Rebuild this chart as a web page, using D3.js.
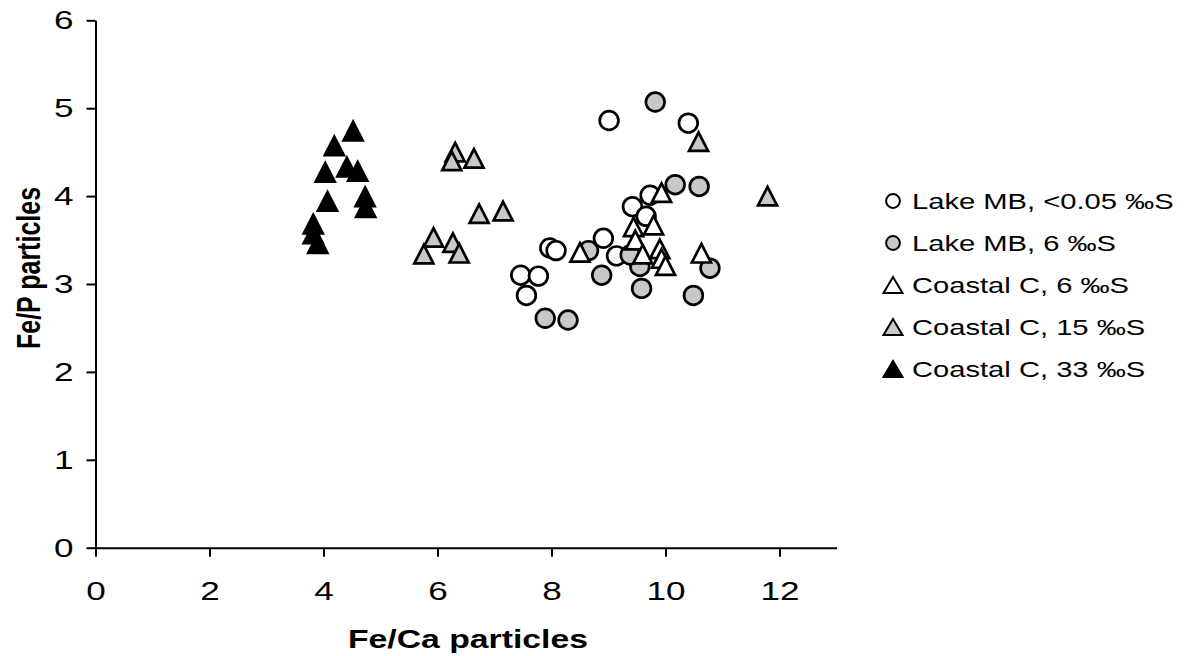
<!DOCTYPE html>
<html>
<head>
<meta charset="utf-8">
<script src="https://cdn.jsdelivr.net/npm/d3@7"></script>
<style>
  body { margin: 0; background: #fff; }
  text { font-family: Arial, "Liberation Sans", sans-serif; }
</style>
</head>
<body>
<div id="chart"></div>
<script>
var WIDTH = 1187, HEIGHT = 656;
var STRETCH = 1.35;   //text in the original figure is drawn wide

//series names, in draw order (later ones sit on top)
var seriesNames = ['Lake MB, <0.05 \u2030S', 'Lake MB, 6 \u2030S', 'Coastal C, 6 \u2030S', 'Coastal C, 15 \u2030S', 'Coastal C, 33 \u2030S'];
var seriesShapes = ['circle', 'circle', 'triangle', 'triangle', 'triangle'];
var seriesFills = ['#ffffff', '#c8c8c8', '#ffffff', '#c8c8c8', '#000000'];

//[Fe/Ca, Fe/P] pairs
var lakeFresh = [[9.01, 4.86], [10.4, 4.83], [9.73, 4.01], [9.42, 3.88], [9.66, 3.77], [8.91, 3.52],
    [9.14, 3.32], [7.97, 3.41], [8.08, 3.38], [7.46, 3.10], [7.77, 3.09], [7.56, 2.87]];
var lake6 = [[9.82, 5.07], [10.17, 4.13], [10.59, 4.11], [10.78, 3.18], [10.49, 2.87], [9.58, 2.95],
    [9.55, 3.20], [9.38, 3.33], [8.88, 3.10], [7.89, 2.61], [8.29, 2.59], [8.65, 3.38]];
var coastal6 = [[8.50, 3.36], [9.44, 3.65], [9.79, 3.67], [9.93, 4.04], [9.47, 3.50], [9.60, 3.34],
    [9.90, 3.40], [9.93, 3.29], [10.0, 3.21], [10.63, 3.35]];
var coastal15 = [[6.31, 4.50], [6.25, 4.40], [6.64, 4.43], [6.73, 3.80], [7.15, 3.83], [5.93, 3.53],
    [6.27, 3.47], [5.76, 3.34], [6.38, 3.35], [10.58, 4.62], [11.79, 4.00]];
var coastal33 = [[4.52, 4.74], [4.19, 4.57], [4.41, 4.33], [4.60, 4.28], [4.03, 4.27], [4.07, 3.94],
    [4.73, 3.99], [4.74, 3.87], [3.82, 3.68], [3.82, 3.57], [3.90, 3.46]];
var seriesData = [lakeFresh, lake6, coastal6, coastal15, coastal33];

var xTicks = [0, 2, 4, 6, 8, 10, 12];
var yTicks = [0, 1, 2, 3, 4, 5, 6];

var svg = d3.select('#chart')
    .append('svg')
    .attr('width', WIDTH)
    .attr('height', HEIGHT);

var x = d3.scaleLinear().domain([0, 13]).range([95.5, 836.5]);
var y = d3.scaleLinear().domain([0, 6]).range([547.7, 20.3]);

//axes
var xAxis = svg.append('g')
    .attr('transform', 'translate(0,' + y(0) + ')')
    .call(d3.axisBottom(x).tickValues(xTicks).tickSize(9).tickSizeOuter(0).tickPadding(25));
var yAxis = svg.append('g')
    .attr('transform', 'translate(' + x(0) + ',0)')
    .call(d3.axisLeft(y).tickValues(yTicks).tickFormat(d3.format('d')).tickSize(9).tickSizeOuter(0).tickPadding(13));

[xAxis, yAxis].forEach(function(ax) {
    ax.selectAll('path, line').attr('stroke', '#000').attr('stroke-width', 2);
    ax.selectAll('text')
        .attr('fill', '#000')
        .style('font-size', '26px')
        .style('font-family', 'Arial, "Liberation Sans", sans-serif')
        //widen the glyphs but keep the anchor where d3 put it
        .attr('x', function() { return +d3.select(this).attr('x') / STRETCH; })
        .attr('transform', 'scale(' + STRETCH + ',1)');
});

//axis titles
svg.append('text')
    .attr('transform', 'translate(468,648) scale(' + STRETCH + ',1)')
    .attr('text-anchor', 'middle')
    .style('font-size', '25px')
    .style('font-weight', 'bold')
    .text('Fe/Ca particles');
svg.append('text')
    .attr('transform', 'translate(40,268) scale(' + STRETCH + ',1) rotate(-90)')
    .attr('text-anchor', 'middle')
    .style('font-size', '25px')
    .style('font-weight', 'bold')
    .text('Fe/P particles');

//triangle with its box centred on the point
function triangleType(w, h) {
    return {
        draw: function(context) {
            context.moveTo(0, -h / 2);
            context.lineTo(w / 2, h / 2);
            context.lineTo(-w / 2, h / 2);
            context.closePath();
        }
    };
}

function markerPath(shape, big) {
    if (shape === 'circle') {
        return d3.symbol().type(d3.symbolCircle).size(big ? 275 : 150)();
    }
    return big ? d3.symbol().type(triangleType(19, 18.5))() : d3.symbol().type(triangleType(19, 16))();
}

//points
seriesData.forEach(function(data, i) {
    svg.append('g')
        .attr('class', 'series-' + i)
        .selectAll('path')
        .data(data)
        .enter()
        .append('path')
        .attr('d', markerPath(seriesShapes[i], true))
        .attr('transform', function(d) { return 'translate(' + x(d[0]) + ',' + y(d[1]) + ')'; })
        .attr('fill', seriesFills[i])
        .attr('stroke', '#000')
        .attr('stroke-width', 2.7)
        .attr('stroke-linejoin', 'miter');
});

//legend
var legend = svg.append('g').attr('transform', 'translate(893,201)');
var rows = legend.selectAll('g')
    .data(seriesNames)
    .enter()
    .append('g')
    .attr('transform', function(d, i) { return 'translate(0,' + (i * 42) + ')'; });
rows.append('path')
    .attr('d', function(d, i) { return markerPath(seriesShapes[i], false); })
    .attr('fill', function(d, i) { return seriesFills[i]; })
    .attr('stroke', '#000')
    .attr('stroke-width', 2);
rows.append('text')
    .attr('transform', 'translate(19,0) scale(' + STRETCH + ',1)')
    .attr('dy', '0.35em')
    .style('font-size', '21.6px')
    .text(function(d) { return d; });
</script>
</body>
</html>
